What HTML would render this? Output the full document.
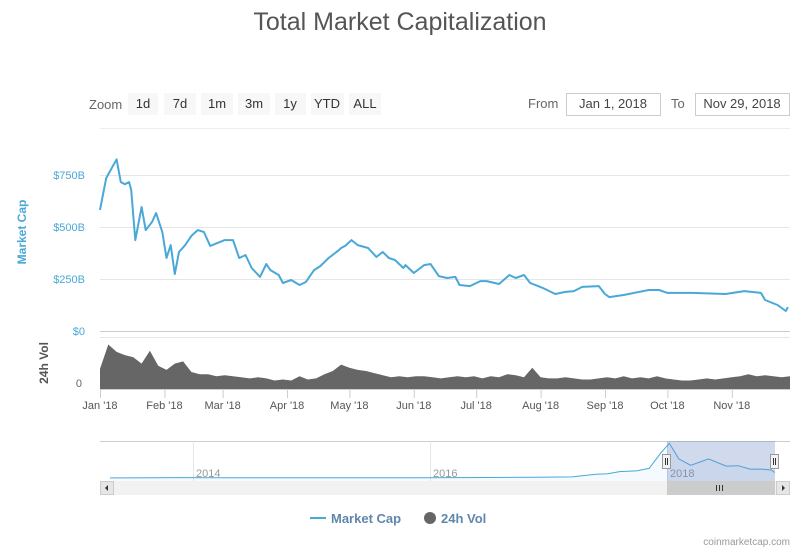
<!DOCTYPE html>
<html><head><meta charset="utf-8">
<style>
html,body{margin:0;padding:0;background:#fff;}
body{width:800px;height:550px;overflow:hidden;font-family:"Liberation Sans",sans-serif;}
svg text{font-family:"Liberation Sans",sans-serif;}
</style></head>
<body>
<svg id="chart" width="800" height="550" viewBox="0 0 800 550">
  <text x="400" y="30" text-anchor="middle" font-size="25" fill="#555">Total Market Capitalization</text>
  <g>
    <text x="89" y="109" font-size="13" fill="#666">Zoom</text>
    <g><rect x="128" y="93" width="30" height="22" fill="#f7f7f7"/><text x="143" y="108" font-size="13" fill="#333" text-anchor="middle">1d</text></g>
    <g><rect x="164" y="93" width="32" height="22" fill="#f7f7f7"/><text x="180" y="108" font-size="13" fill="#333" text-anchor="middle">7d</text></g>
    <g><rect x="201" y="93" width="32" height="22" fill="#f7f7f7"/><text x="217" y="108" font-size="13" fill="#333" text-anchor="middle">1m</text></g>
    <g><rect x="238" y="93" width="32" height="22" fill="#f7f7f7"/><text x="254" y="108" font-size="13" fill="#333" text-anchor="middle">3m</text></g>
    <g><rect x="275" y="93" width="31" height="22" fill="#f7f7f7"/><text x="290" y="108" font-size="13" fill="#333" text-anchor="middle">1y</text></g>
    <g><rect x="311" y="93" width="33" height="22" fill="#f7f7f7"/><text x="327" y="108" font-size="13" fill="#333" text-anchor="middle">YTD</text></g>
    <g><rect x="349" y="93" width="32" height="22" fill="#f7f7f7"/><text x="365" y="108" font-size="13" fill="#333" text-anchor="middle">ALL</text></g>
    <text x="528" y="108" font-size="13" fill="#666">From</text>
    <g><rect x="566.5" y="93.5" width="94" height="22" fill="#fff" stroke="#ccc"/><text x="613" y="108" font-size="13" fill="#444" text-anchor="middle">Jan 1, 2018</text></g>
    <text x="671" y="108" font-size="13" fill="#666">To</text>
    <g><rect x="695.5" y="93.5" width="94" height="22" fill="#fff" stroke="#ccc"/><text x="742" y="108" font-size="13" fill="#444" text-anchor="middle">Nov 29, 2018</text></g>
  </g>
  <line x1="100" y1="128.5" x2="790" y2="128.5" stroke="#eee"/>
  <g id="grid"></g>
  <text transform="translate(26,232) rotate(-90)" text-anchor="middle" font-size="12" font-weight="bold" fill="#4aa8d8">Market Cap</text>
  <text transform="translate(48,363) rotate(-90)" text-anchor="middle" font-size="12" font-weight="bold" fill="#555">24h Vol</text>
  <g id="vol"></g>
  <g id="cap"></g>
  <g id="xaxis"></g>
  <g id="nav"></g>
  <g>
    <g>
      <line x1="310" y1="518" x2="326" y2="518" stroke="#4aa8d8" stroke-width="2"/>
      <text x="331" y="523" font-size="13" font-weight="bold" fill="#5f87ad">Market Cap</text>
    </g>
    <g>
      <circle cx="430" cy="518" r="6" fill="#666"/>
      <text x="441" y="523" font-size="13" font-weight="bold" fill="#5f87ad">24h Vol</text>
    </g>
  </g>
  <text x="790" y="545" text-anchor="end" font-size="10" fill="#999">coinmarketcap.com</text>
</svg>
<script>
// Market cap (billions USD) by day of 2018 (0 = Jan 1)
const capDays = [0,3,6,8,10,12,14,15,17,19,20,22,25,27,30,32,34,36,38,41,44,47,50,53,60,64,67,70,73,77,80,82,86,88,92,96,99,103,106,110,115,116,118,121,124,129,133,136,139,142,146,147,151,156,159,163,167,171,173,178,183,186,192,197,200,204,207,213,219,224,228,232,240,243,245,252,264,269,273,285,301,310,318,320,326,330,331];
const capVals = [582,735,790,825,716,706,716,678,437,543,596,485,524,567,476,351,413,274,380,413,457,485,476,409,437,437,351,365,303,260,322,293,269,231,245,221,235,293,312,351,389,399,409,437,413,399,356,380,351,341,303,317,279,317,322,264,255,260,221,216,240,240,226,269,255,269,231,207,178,188,192,212,216,178,163,173,197,197,183,183,178,192,183,149,125,96,115];
// 24h volume (billions USD), every 4 days from Jan 1
const volVals = [19,42,35,32,30,24,36,22,18,24,26,16,14,14,12,13,12,11,10,11,10,8,9,8,12,9,10,14,17,23,20,18,17,15,13,11,12,11,12,12,11,10,11,12,11,12,10,12,11,14,13,11,20,11,10,10,11,10,9,9,10,11,10,12,10,11,10,12,10,9,8,8,9,10,9,10,11,12,14,12,13,12,11,12];
const capTicks = [0,250,500,750];
const capTickLabels = ["$0","$250B","$500B","$750B"];
const monthDays = [0,31,59,90,120,151,181,212,243,273,304];
const monthLabels = ["Jan '18","Feb '18","Mar '18","Apr '18","May '18","Jun '18","Jul '18","Aug '18","Sep '18","Oct '18","Nov '18"];
// Navigator: year (decimal) and market cap (billions)
const navYears = [2013.3,2013.9,2014.2,2015.0,2015.9,2016.5,2016.9,2017.2,2017.4,2017.5,2017.6,2017.75,2017.85,2017.95,2018.02,2018.1,2018.2,2018.35,2018.5,2018.6,2018.7,2018.8,2018.88,2018.91];
const navVals = [2,10,8,4,7,12,18,25,90,100,150,170,230,600,820,450,300,450,280,290,210,210,190,130];
const navYearTicks = [2014,2016,2018];

const NS="http://www.w3.org/2000/svg";
function mk(tag,attrs,parent){const e=document.createElementNS(NS,tag);for(const k in attrs)e.setAttribute(k,attrs[k]);parent.appendChild(e);return e;}
const x=d=>100+d*(690/332);
const y=v=>331-v*(52/250);
const yv=v=>389-v*(53/50);
const xn=t=>193+(t-2014)*118.5;
const yn=v=>478-v*(36/850);

const grid=document.getElementById('grid');
capTicks.forEach((t,i)=>{
  const l=mk('line',{x1:100,x2:790,y1:y(t)+0.5,y2:y(t)+0.5,stroke:i===0?'#ccc':'#e6e6e6'},grid);
  
  
  const tx=mk('text',{x:85,y:y(t)+4,'text-anchor':'end','font-size':'11',fill:'#4aa8d8'},grid);
  tx.textContent=capTickLabels[i];
  
  
});
const vl=mk('text',{x:82,y:387,'text-anchor':'end','font-size':'11',fill:'#666'},grid);
vl.textContent='0';


const vt=mk('line',{x1:100,x2:790,y1:337.5,y2:337.5,stroke:'#e6e6e6'},grid);



// volume area
const vg=document.getElementById('vol');
let vp='M'+x(0)+','+yv(0);
volVals.forEach((v,i)=>{vp+=' L'+x(i*4).toFixed(1)+','+yv(v).toFixed(1);});
vp+=' L'+x((volVals.length-1)*4).toFixed(1)+','+yv(0)+' Z';
const va=mk('path',{d:vp,fill:'#666'},vg);



// cap line
const cg=document.getElementById('cap');
const cp=capDays.map((d,i)=>(i?'L':'M')+x(d).toFixed(1)+','+y(capVals[i]).toFixed(1)).join(' ');
const cl=mk('path',{d:cp,fill:'none',stroke:'#4aa8d8','stroke-width':2,'stroke-linejoin':'round'},cg);



// x axis
const xg=document.getElementById('xaxis');
const xb=mk('line',{x1:100,x2:790,y1:389.5,y2:389.5,stroke:'#ccc'},xg);


monthDays.forEach((d,i)=>{
  const t=mk('line',{x1:x(d)+0.5,x2:x(d)+0.5,y1:389,y2:398,stroke:'#ccc'},xg);
  
  
  const tx=mk('text',{x:x(d),y:409,'text-anchor':'middle','font-size':'11',fill:'#555'},xg);
  tx.textContent=monthLabels[i];
  
  
});

// navigator
const ng=document.getElementById('nav');
const nb=mk('rect',{x:100,y:441,width:690,height:40,fill:'#fff'},ng);


const ntop=mk('line',{x1:100,x2:790,y1:441.5,y2:441.5,stroke:'#ccc'},ng);


navYearTicks.forEach(t=>{
  const l=mk('line',{x1:xn(t)+0.5,x2:xn(t)+0.5,y1:441,y2:481,stroke:'#e6e6e6'},ng);
  
  
  const tx=mk('text',{x:xn(t)+3,y:477,'font-size':'11',fill:'#999'},ng);
  tx.textContent=String(t);
  
  
});
const np=navYears.map((t,i)=>(i?'L':'M')+xn(t).toFixed(1)+','+yn(navVals[i]).toFixed(1)).join(' ');
const na=mk('path',{d:np+' L'+xn(navYears[navYears.length-1]).toFixed(1)+',481 L'+xn(navYears[0]).toFixed(1)+',481 Z',fill:'#4aa8d8','fill-opacity':0.06},ng);


const nl=mk('path',{d:np,fill:'none',stroke:'#4aa8d8','stroke-width':1},ng);


const sel=mk('rect',{x:667,y:441,width:108,height:40,fill:'#6685c2','fill-opacity':0.3},ng);


[667,775].forEach((hx,i)=>{
  const h=mk('g',{},ng);
  
  
  mk('rect',{x:hx-4.5,y:454.5,width:8,height:14,fill:'#f2f2f2',stroke:'#999'},h);
  mk('line',{x1:hx-1.5,x2:hx-1.5,y1:458,y2:465,stroke:'#333'},h);
  mk('line',{x1:hx+0.5,x2:hx+0.5,y1:458,y2:465,stroke:'#333'},h);
});
const sb=mk('rect',{x:100,y:481,width:690,height:14,fill:'#f2f2f2'},ng);


const th=mk('rect',{x:667,y:481,width:108,height:14,fill:'#ccc'},ng);


[716,719,722].forEach(gx=>mk('line',{x1:gx+0.5,x2:gx+0.5,y1:485,y2:491,stroke:'#333'},ng));
const lb=mk('g',{},ng);


mk('rect',{x:100.5,y:481.5,width:13,height:13,fill:'#e6e6e6',stroke:'#ccc'},lb);
mk('path',{d:'M105,488 L108,485 L108,491 Z',fill:'#333'},lb);
const rb=mk('g',{},ng);


mk('rect',{x:776.5,y:481.5,width:13,height:13,fill:'#e6e6e6',stroke:'#ccc'},rb);
mk('path',{d:'M785,488 L782,485 L782,491 Z',fill:'#333'},rb);
</script>
</body></html>
